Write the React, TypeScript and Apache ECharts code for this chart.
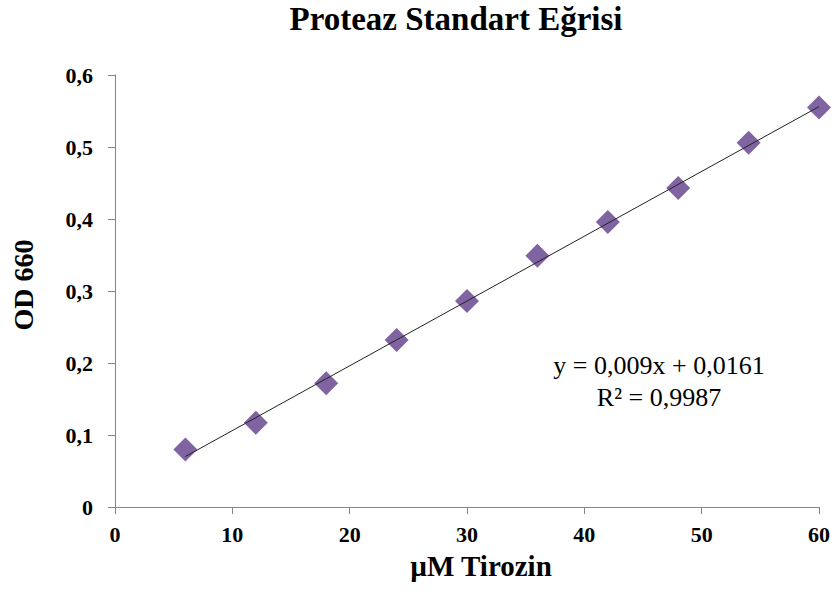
import React, { useEffect, useRef } from "react";
import * as echarts from "echarts";

const xValues = [6, 12, 18, 24, 30, 36, 42, 48, 54, 60];
const odValues = [0.080, 0.117, 0.172, 0.232, 0.286, 0.349, 0.396, 0.443, 0.506, 0.555];
const slope = 0.009;
const intercept = 0.0161;
const trendRange = [6, 60];
const titleText = "Proteaz Standart Eğrisi";
const xAxisName = "µM Tirozin";
const yAxisName = "OD 660";
const equationLines = ["y = 0,009x + 0,0161", "R² = 0,9987"];

const FONT = "'Liberation Serif', 'Times New Roman', serif";

export default function App() {
  const ref = useRef<HTMLDivElement>(null);
  useEffect(() => {
    if (!ref.current) return;
    const chart = echarts.init(ref.current, undefined, { renderer: "svg" });
    const comma = (v: number) => String(v).replace(".", ",");
    const txt = (x: number, y: number, text: string, size: number, bold: boolean, rotation = 0) => ({
      type: "text",
      x,
      y,
      rotation,
      style: {
        text,
        fontFamily: FONT,
        fontSize: size,
        fontWeight: bold ? "bold" : "normal",
        fill: "#000",
        align: "center",
        verticalAlign: "middle",
      },
    });
    chart.setOption({
      animation: false,
      backgroundColor: "#ffffff",
      textStyle: { fontFamily: FONT },
      grid: { left: 115, right: 16, top: 75, bottom: 83 },
      xAxis: {
        type: "value",
        min: 0,
        max: 60,
        interval: 10,
        axisLine: { show: true, lineStyle: { color: "#868686", width: 1 } },
        axisTick: { show: true, length: 7, lineStyle: { color: "#868686" } },
        axisLabel: { fontFamily: FONT, fontSize: 22, fontWeight: "bold", color: "#000", margin: 16 },
        splitLine: { show: false },
      },
      yAxis: {
        type: "value",
        min: 0,
        max: 0.6,
        interval: 0.1,
        axisLine: { show: true, lineStyle: { color: "#868686", width: 1 } },
        axisTick: { show: true, length: 7, lineStyle: { color: "#868686" } },
        axisLabel: {
          fontFamily: FONT,
          fontSize: 22,
          fontWeight: "bold",
          color: "#000",
          margin: 22,
          formatter: (v: number) => comma(Math.round(v * 10) / 10),
        },
        splitLine: { show: false },
      },
      series: [
        {
          type: "scatter",
          data: xValues.map((x, i) => [x, odValues[i]]),
          symbol: "diamond",
          symbolSize: [24, 24],
          itemStyle: { color: "#8064A2", opacity: 1 },
          z: 2,
        },
        {
          type: "line",
          data: trendRange.map((x) => [x, slope * x + intercept]),
          symbol: "none",
          lineStyle: { color: "#222222", width: 1 },
          z: 3,
        },
      ],
      graphic: [
        txt(456, 19, titleText, 33, true),
        txt(481, 566, xAxisName, 29, true),
        txt(23, 285, yAxisName, 28, true, Math.PI / 2),
        txt(659, 365, equationLines[0], 26, false),
        txt(659, 397, equationLines[1], 26, false),
      ],
    });
    return () => chart.dispose();
  }, []);
  return (
    <div
      ref={ref}
      style={{ position: "absolute", left: 0, top: 0, width: 835, height: 590 }}
    />
  );
}
